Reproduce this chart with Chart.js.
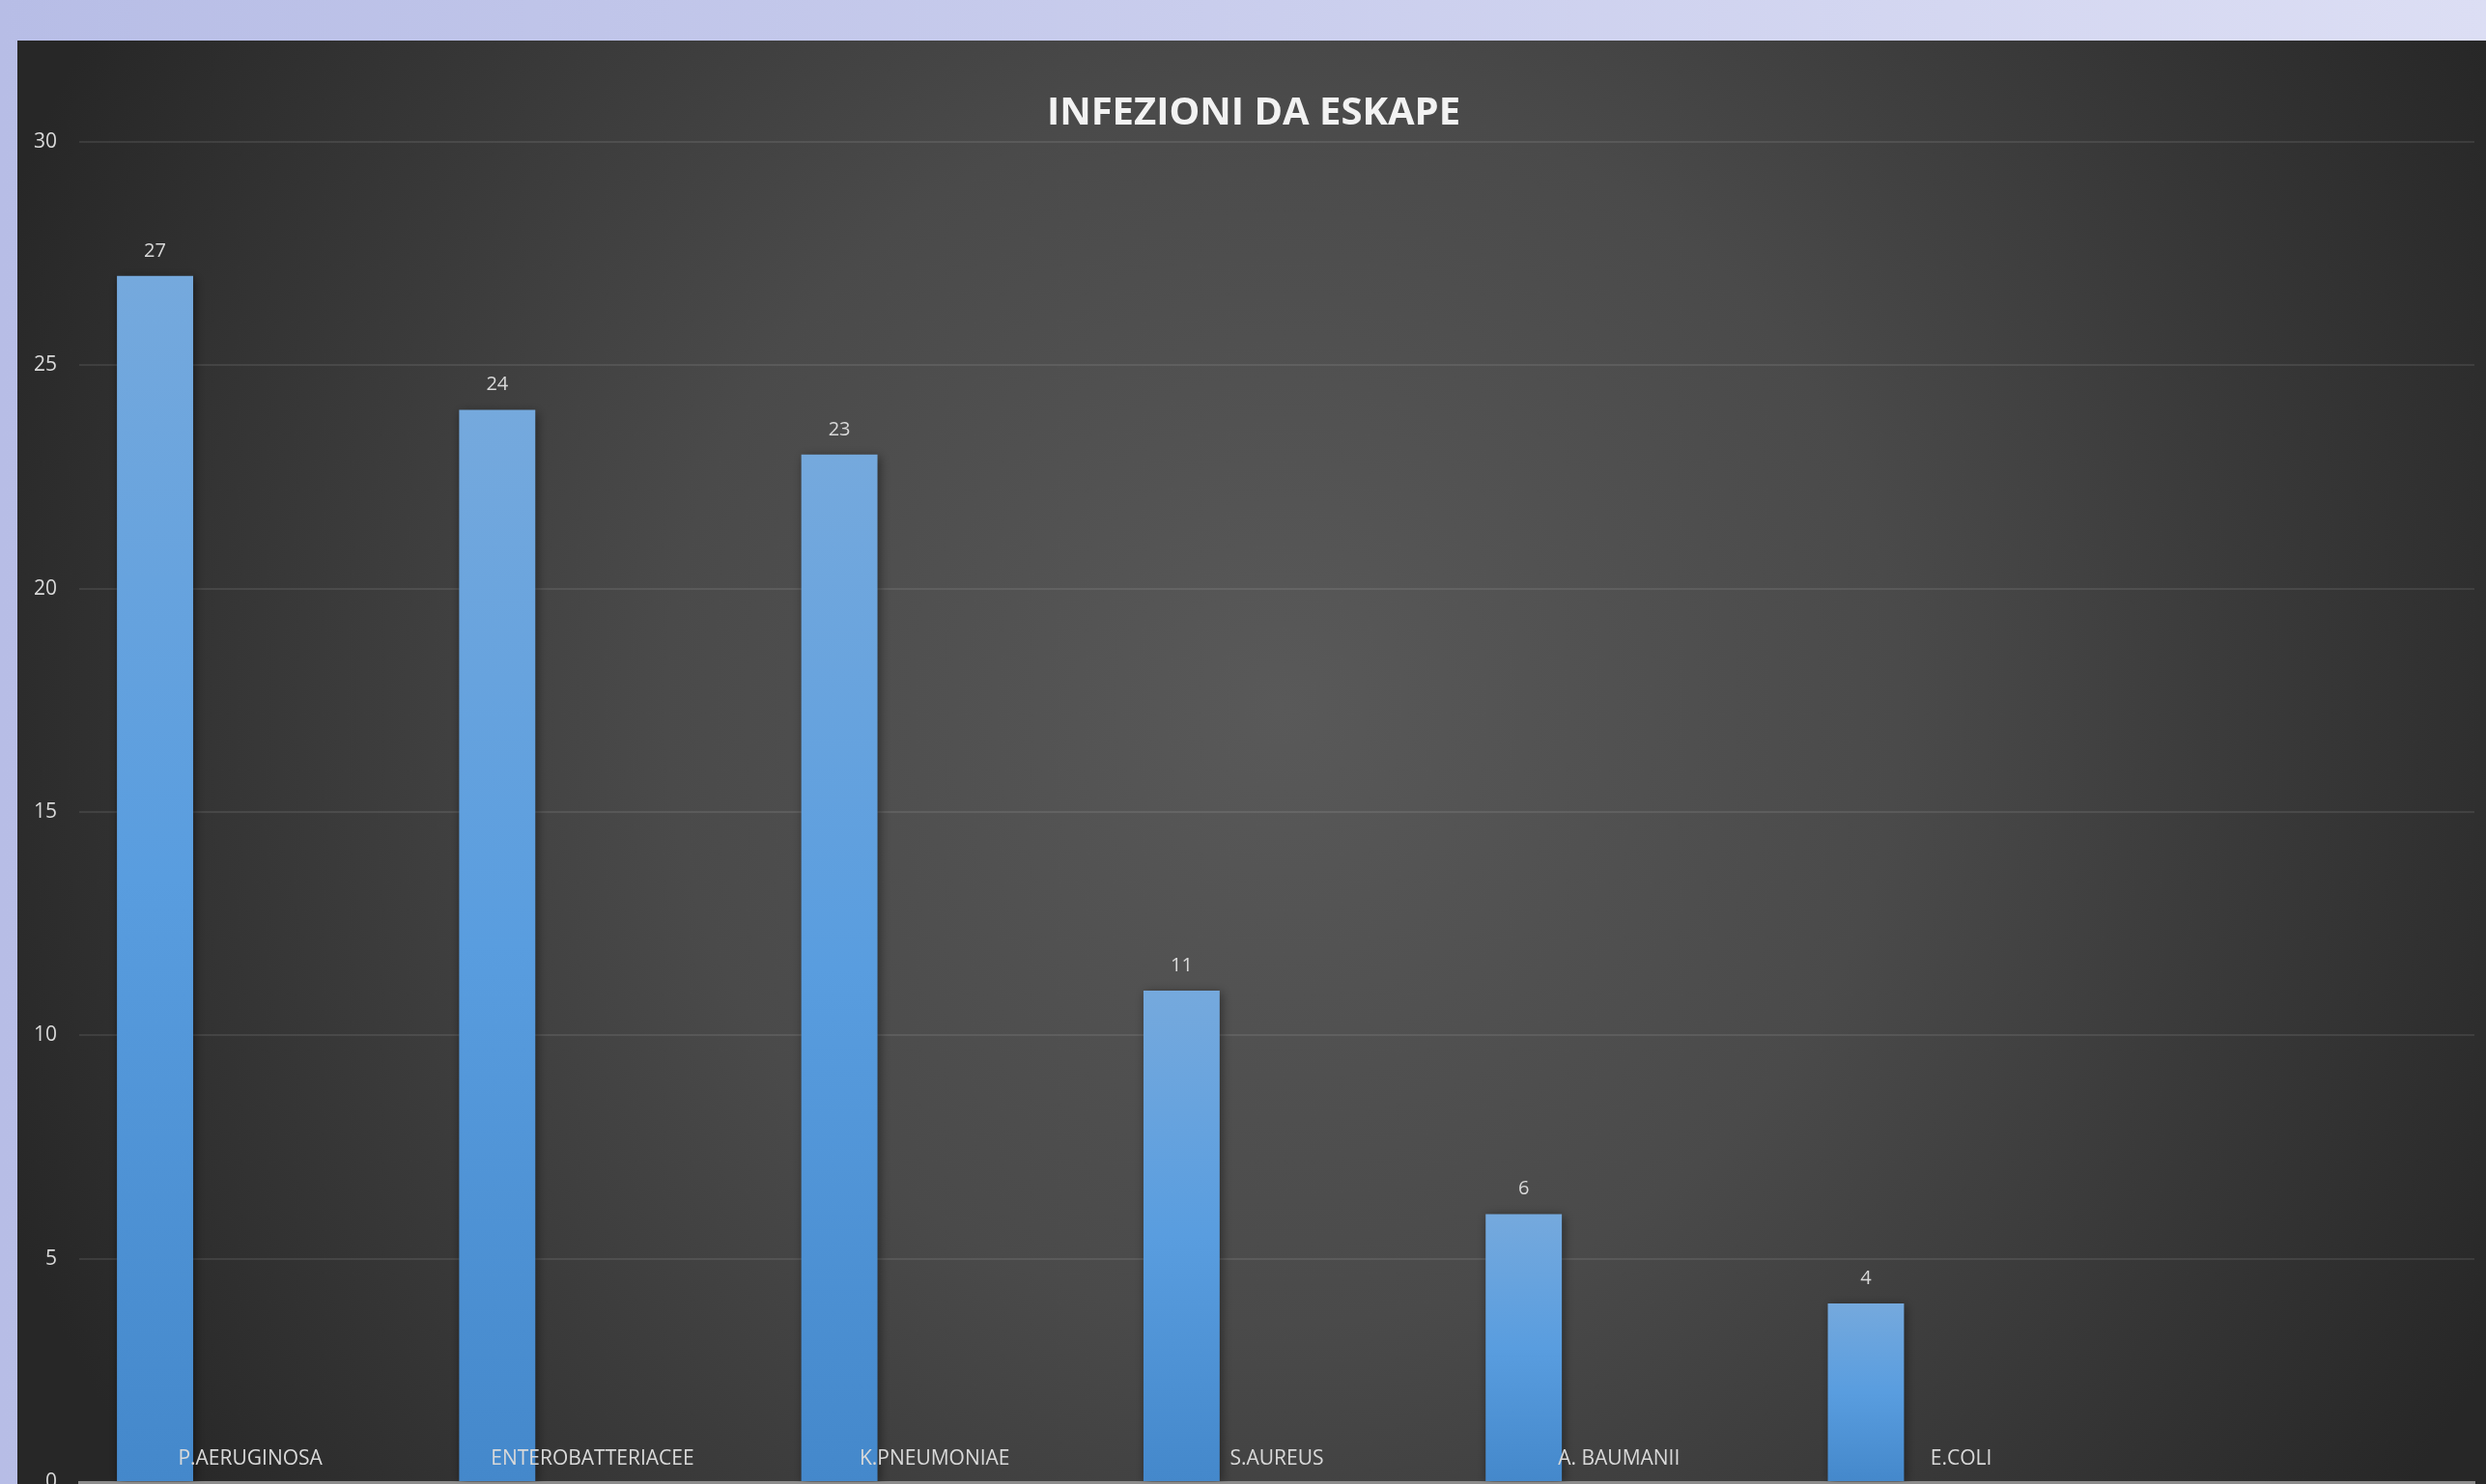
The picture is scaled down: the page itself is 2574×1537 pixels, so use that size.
<!DOCTYPE html>
<html>
<head>
<meta charset="utf-8">
<title>Infezioni da ESKAPE</title>
<script src="https://cdn.jsdelivr.net/npm/chart.js@4.4.1/dist/chart.umd.min.js"></script>
<style>
  html, body { margin: 0; padding: 0; width: 2574px; height: 1537px; overflow: hidden; }
  body { background: linear-gradient(to right, #b7bde6, #dcdef4); }
  #panel { position: absolute; left: 18px; top: 42px; width: 2556px; height: 1495px; }
</style>
</head>
<body>
<div id="panel"><canvas id="eskapeChart"></canvas></div>
<script>
const categories = ['P.AERUGINOSA', 'ENTEROBATTERIACEE', 'K.PNEUMONIAE', 'S.AUREUS', 'A. BAUMANII', 'E.COLI', ''];
const infections = [27, 24, 23, 11, 6, 4, null];
const emptySeries = [null, null, null, null, null, null, null];
const yTickValues = [0, 5, 10, 15, 20, 25, 30];

const labelFont = { family: 'Open Sans', size: 20 };

const barGradient = (context) => {
  const { chart, raw } = context;
  const yScale = chart.scales.y;

  if (!yScale || raw == null || !chart.chartArea) {
    return '#5b9bd5';
  }

  const top = yScale.getPixelForValue(raw);
  const bottom = yScale.getPixelForValue(0);

  if (!Number.isFinite(top) || !Number.isFinite(bottom) || top === bottom) {
    return '#5b9bd5';
  }

  const gradient = chart.ctx.createLinearGradient(0, top, 0, bottom);
  gradient.addColorStop(0, '#75a9dd');
  gradient.addColorStop(0.5, '#599ddf');
  gradient.addColorStop(1, '#4488cb');
  return gradient;
};

const panelBackground = {
  id: 'panelBackground',
  beforeDraw: (chart) => {
    const { ctx, width, height } = chart;
    const glow = ctx.createRadialGradient(1310, 690, 0, 1310, 690, 1420);
    glow.addColorStop(0, '#595959');
    glow.addColorStop(0.45, '#4a4a4a');
    glow.addColorStop(1, '#272727');
    ctx.save();
    ctx.fillStyle = glow;
    ctx.fillRect(0, 0, width, height);
    ctx.restore();
  }
};

const barShadowAndValues = {
  id: 'barShadowAndValues',
  beforeDatasetsDraw: (chart) => {
    const { ctx } = chart;
    ctx.save();
    ctx.shadowColor = 'rgba(0, 0, 0, 0.45)';
    ctx.shadowBlur = 10;
    ctx.shadowOffsetX = 2;
    ctx.shadowOffsetY = 2;
  },
  afterDatasetsDraw: (chart) => {
    const { ctx } = chart;
    ctx.restore();

    const meta = chart.getDatasetMeta(0);
    ctx.save();
    ctx.fillStyle = '#d9d9d9';
    ctx.font = `${labelFont.size}px ${labelFont.family}`;
    ctx.textAlign = 'center';
    ctx.textBaseline = 'middle';
    meta.data.forEach((bar, index) => {
      const value = infections[index];
      if (value == null) {
        return;
      }
      ctx.fillText(String(value), bar.x, bar.y - 26);
    });
    ctx.restore();
  }
};

const renderChart = () => {
  const canvas = document.getElementById('eskapeChart');

  new Chart(canvas, {
    type: 'bar',
    data: {
      labels: categories,
      datasets: [
        { label: 'Infezioni', data: infections, backgroundColor: barGradient },
        { label: 'Serie 2', data: emptySeries, backgroundColor: '#5b9bd5' },
        { label: 'Serie 3', data: emptySeries, backgroundColor: '#5b9bd5' }
      ]
    },
    options: {
      responsive: true,
      maintainAspectRatio: false,
      animation: false,
      categoryPercentage: 0.835,
      barPercentage: 0.8,
      layout: {
        padding: { left: 16, right: 12, top: 0, bottom: 0 }
      },
      plugins: {
        legend: { display: false },
        tooltip: { enabled: false },
        title: {
          display: true,
          text: 'INFEZIONI DA ESKAPE',
          color: '#f2f2f2',
          font: { family: 'Open Sans', size: 40, weight: 'bold' },
          padding: { top: 52, bottom: 5 }
        }
      },
      scales: {
        x: {
          offset: true,
          grid: { display: false },
          border: { display: true, color: '#8c8c8c', width: 3 },
          ticks: {
            color: '#d9d9d9',
            font: { family: 'Open Sans', size: 21 },
            mirror: true,
            padding: 11,
            maxRotation: 0,
            autoSkip: false,
            z: 1
          },
          afterFit: (scale) => {
            scale.height = 2;
          }
        },
        y: {
          min: 0,
          max: 30,
          grid: { color: 'rgba(255, 255, 255, 0.09)', lineWidth: 2, drawTicks: false },
          border: { display: false },
          ticks: {
            color: '#d9d9d9',
            font: { family: 'Open Sans', size: 21 },
            padding: 23
          },
          afterBuildTicks: (scale) => {
            scale.ticks = yTickValues.map((value) => ({ value }));
          },
          afterFit: (scale) => {
            scale.width = 48;
            scale.paddingTop = 0;
            scale.paddingBottom = 0;
          }
        }
      }
    },
    plugins: [panelBackground, barShadowAndValues]
  });
};

document.addEventListener('DOMContentLoaded', renderChart);
</script>
</body>
</html>
